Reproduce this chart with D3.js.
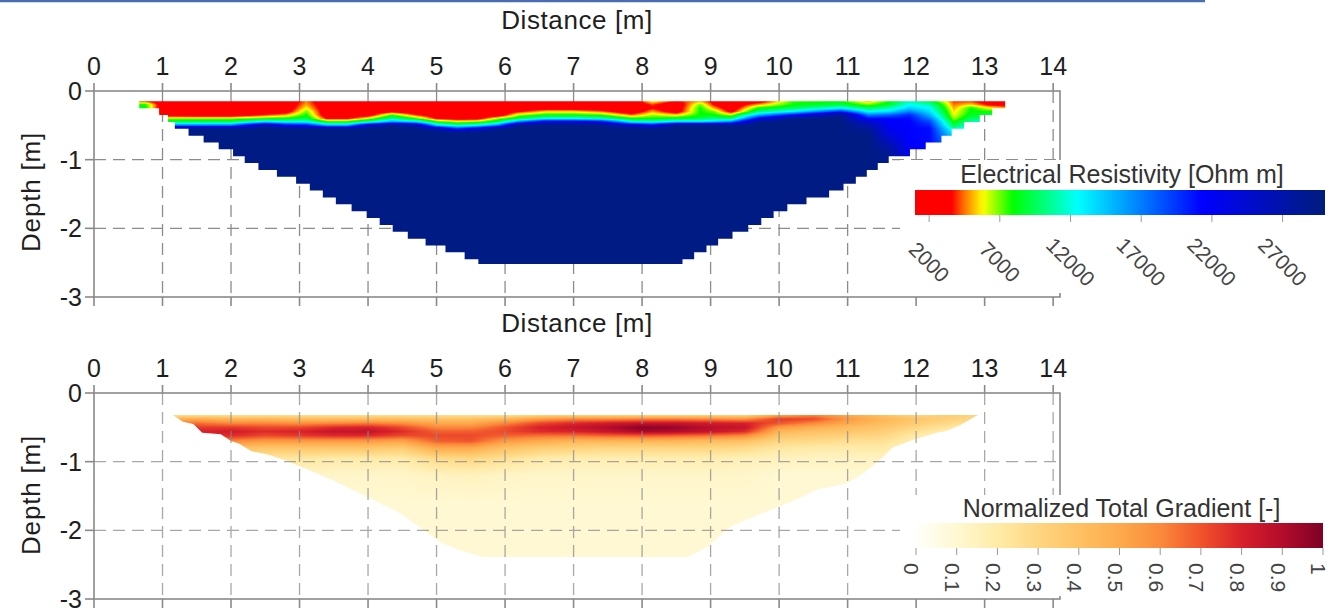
<!DOCTYPE html>
<html>
<head>
<meta charset="utf-8">
<script src="https://cdn.jsdelivr.net/npm/d3@7"></script>
<style>
  html, body { margin: 0; padding: 0; background: #fff; }
  svg { display: block; font-family: "Liberation Sans", Arial, sans-serif; }
</style>
</head>
<body>
<svg id="chart" width="1332" height="613"></svg>
<script>
// ---------------------------------------------------------------
// Axis ticks
// ---------------------------------------------------------------
const distanceTicks = [0, 1, 2, 3, 4, 5, 6, 7, 8, 9, 10, 11, 12, 13, 14];
const depthTicks = [0, -1, -2, -3];
const resistivityTicks = [2000, 7000, 12000, 17000, 22000, 27000];
const gradientTicks = [0, 0.1, 0.2, 0.3, 0.4, 0.5, 0.6, 0.7, 0.8, 0.9, 1];

// ---------------------------------------------------------------
// Electrical resistivity model (Ohm m)
// one profile per distance node, sampled at the depth nodes
// ---------------------------------------------------------------
const resDistance = [0.5, 0.75, 1.0, 1.5, 2.0, 2.5, 2.8, 3.1, 3.4, 3.7, 4.0, 4.35, 4.7, 5.0, 5.3, 5.6,
  5.9, 6.2, 6.6, 7.0, 7.4, 7.85, 8.15, 8.5, 8.85, 9.05, 9.3, 9.7, 10.2, 10.9, 11.3, 11.6, 11.9,
  12.2, 12.55, 12.8, 13.05, 13.4];
const resDepth = [0.15, 0.2, 0.25, 0.3, 0.35, 0.4, 0.45, 0.5, 0.55, 0.6, 0.7, 0.85, 1.1, 1.5, 2.0, 2.55];
const resistivity = [
  [4500, 7900, 9000, 12500, 17000, 29500, 29500, 29500, 29500, 29500, 29500, 29500, 29500, 29500, 29500, 29500],
  [4000, 7900, 7900, 8500, 12500, 21000, 29500, 29500, 29500, 29500, 29500, 29500, 29500, 29500, 29500, 29500],
  [2000, 2000, 2000, 2000, 2500, 6500, 9500, 17000, 29500, 29500, 29500, 29500, 29500, 29500, 29500, 29500],
  [2000, 2000, 2000, 2000, 2000, 6500, 9500, 17000, 29500, 29500, 29500, 29500, 29500, 29500, 29500, 29500],
  [2000, 2000, 2000, 2000, 2000, 6500, 9500, 17000, 29500, 29500, 29500, 29500, 29500, 29500, 29500, 29500],
  [2000, 2000, 2000, 2000, 4000, 7500, 14000, 27000, 29500, 29500, 29500, 29500, 29500, 29500, 29500, 29500],
  [2000, 2000, 2000, 2500, 5000, 8000, 12500, 22000, 29500, 29500, 29500, 29500, 29500, 29500, 29500, 29500],
  [4500, 5000, 5800, 7000, 7900, 9000, 12500, 21000, 29500, 29500, 29500, 29500, 29500, 29500, 29500, 29500],
  [2000, 2000, 2000, 2000, 2000, 3500, 8000, 15000, 29500, 29500, 29500, 29500, 29500, 29500, 29500, 29500],
  [2000, 2000, 2000, 2000, 2000, 3500, 8000, 15000, 29500, 29500, 29500, 29500, 29500, 29500, 29500, 29500],
  [2000, 2000, 2000, 2000, 2500, 6000, 11000, 25000, 29500, 29500, 29500, 29500, 29500, 29500, 29500, 29500],
  [2000, 2000, 2000, 3000, 7500, 10500, 16000, 29500, 29500, 29500, 29500, 29500, 29500, 29500, 29500, 29500],
  [2000, 2000, 2000, 2000, 4000, 7500, 14000, 27000, 29500, 29500, 29500, 29500, 29500, 29500, 29500, 29500],
  [2000, 2000, 2000, 2000, 2000, 3500, 7900, 14000, 27000, 29500, 29500, 29500, 29500, 29500, 29500, 29500],
  [2000, 2000, 2000, 2000, 2000, 2500, 6500, 11000, 20000, 29500, 29500, 29500, 29500, 29500, 29500, 29500],
  [2000, 2000, 2000, 2000, 2000, 2800, 7000, 12500, 24000, 29500, 29500, 29500, 29500, 29500, 29500, 29500],
  [2000, 2000, 2000, 2000, 2000, 6500, 9500, 17000, 29500, 29500, 29500, 29500, 29500, 29500, 29500, 29500],
  [2000, 2000, 2000, 3500, 6500, 9000, 17000, 29500, 29500, 29500, 29500, 29500, 29500, 29500, 29500, 29500],
  [2000, 2000, 2500, 5500, 8000, 12000, 24000, 29500, 29500, 29500, 29500, 29500, 29500, 29500, 29500, 29500],
  [2000, 2000, 2500, 5500, 8000, 12000, 24000, 29500, 29500, 29500, 29500, 29500, 29500, 29500, 29500, 29500],
  [2000, 2000, 2000, 4500, 7500, 11000, 22000, 29500, 29500, 29500, 29500, 29500, 29500, 29500, 29500, 29500],
  [2000, 2000, 2000, 2000, 4500, 7900, 12500, 25000, 29500, 29500, 29500, 29500, 29500, 29500, 29500, 29500],
  [5800, 4000, 3500, 5000, 6500, 7900, 12000, 22000, 29500, 29500, 29500, 29500, 29500, 29500, 29500, 29500],
  [3500, 2000, 2000, 2500, 5500, 8500, 14000, 29500, 29500, 29500, 29500, 29500, 29500, 29500, 29500, 29500],
  [5000, 7000, 7900, 7900, 8000, 9000, 14000, 29500, 29500, 29500, 29500, 29500, 29500, 29500, 29500, 29500],
  [3000, 3500, 5000, 7000, 8000, 10000, 15000, 29500, 29500, 29500, 29500, 29500, 29500, 29500, 29500, 29500],
  [2000, 2000, 2000, 3000, 6500, 9500, 17000, 29500, 29500, 29500, 29500, 29500, 29500, 29500, 29500, 29500],
  [2500, 5000, 7900, 10000, 15000, 22000, 29500, 29500, 29500, 29500, 29500, 29500, 29500, 29500, 29500, 29500],
  [7500, 7900, 9500, 13000, 21000, 29500, 29500, 29500, 29500, 29500, 29500, 29500, 29500, 29500, 29500, 29500],
  [7900, 9000, 12500, 20000, 29500, 29500, 29500, 29500, 29500, 29500, 29500, 29500, 29500, 29500, 29500, 29500],
  [5000, 7000, 9500, 12500, 17000, 21000, 25000, 27000, 28000, 29000, 29500, 29500, 29500, 29500, 29500, 29500],
  [7900, 8500, 11000, 13500, 18000, 21000, 21500, 22000, 22500, 23000, 25000, 28000, 29500, 29500, 29500, 29500],
  [11000, 12500, 14000, 17000, 20000, 21000, 21300, 21300, 21300, 21300, 21300, 22000, 24000, 27000, 29500, 29500],
  [9000, 11000, 12500, 13500, 15000, 17000, 19000, 20000, 21000, 21000, 21000, 21000, 22000, 25000, 29500, 29500],
  [4000, 4500, 5000, 5500, 5800, 6500, 7900, 9000, 11000, 12500, 15000, 18000, 21000, 25000, 29500, 29500],
  [4000, 5500, 7900, 8000, 8500, 9500, 11000, 12500, 14000, 16000, 18000, 21000, 24000, 27000, 29500, 29500],
  [2500, 3500, 6000, 7900, 9000, 10000, 12500, 14000, 16000, 18000, 20000, 22000, 25000, 27000, 29500, 29500],
  [2000, 2500, 5000, 7900, 9000, 10000, 12500, 14000, 16000, 18000, 20000, 22000, 25000, 27000, 29500, 29500]
];
// model coverage: one row per 0.1 m layer, with its left and right limits (m)
const resRowTop = [0.15, 0.25, 0.35, 0.45, 0.55, 0.65, 0.75, 0.85, 0.95, 1.05, 1.15, 1.25, 1.35, 1.45,
  1.55, 1.65, 1.75, 1.85, 1.95, 2.05, 2.15, 2.25, 2.35, 2.45];
const resRowLeft = [0.66, 0.95, 1.08, 1.18, 1.38, 1.6, 1.82, 2.03, 2.2, 2.4, 2.67, 2.95, 3.15, 3.34,
  3.53, 3.76, 3.98, 4.17, 4.36, 4.58, 4.84, 5.13, 5.41, 5.61];
const resRowRight = [13.3, 13.11, 12.93, 12.7, 12.52, 12.37, 12.14, 11.91, 11.6, 11.44, 11.28, 11.12,
  10.94, 10.73, 10.4, 10.12, 9.92, 9.74, 9.55, 9.32, 9.11, 8.94, 8.76, 8.59];
const resBase = 2.52;

// ---------------------------------------------------------------
// Normalized total gradient (-)
// ---------------------------------------------------------------
const gradDistance = [1.0, 1.5, 2.0, 2.5, 3.0, 3.5, 4.0, 4.5, 5.0, 5.5, 6.0, 6.5, 7.0, 7.5, 8.0, 8.5,
  9.0, 9.5, 10.0, 10.5, 11.0, 11.5, 12.0, 12.5, 13.0];
const gradDepth = [0.32, 0.38, 0.44, 0.5, 0.56, 0.62, 0.7, 0.8, 0.95, 1.2, 1.6, 2.0, 2.4];
const gradient = [
  [0.25, 0.45, 0.6, 0.7, 0.72, 0.65, 0.5, 0.35, 0.2, 0.13, 0.1, 0.1, 0.1],
  [0.25, 0.5, 0.65, 0.75, 0.8, 0.75, 0.6, 0.4, 0.25, 0.15, 0.12, 0.1, 0.1],
  [0.25, 0.45, 0.6, 0.75, 0.82, 0.78, 0.6, 0.4, 0.25, 0.15, 0.12, 0.1, 0.1],
  [0.25, 0.45, 0.6, 0.72, 0.78, 0.72, 0.55, 0.38, 0.22, 0.14, 0.1, 0.1, 0.1],
  [0.25, 0.42, 0.58, 0.72, 0.8, 0.75, 0.55, 0.38, 0.22, 0.13, 0.1, 0.1, 0.1],
  [0.25, 0.42, 0.6, 0.78, 0.85, 0.78, 0.55, 0.38, 0.2, 0.12, 0.1, 0.1, 0.1],
  [0.25, 0.42, 0.62, 0.8, 0.86, 0.78, 0.55, 0.38, 0.2, 0.12, 0.1, 0.1, 0.1],
  [0.25, 0.42, 0.58, 0.72, 0.78, 0.72, 0.52, 0.35, 0.2, 0.12, 0.1, 0.1, 0.1],
  [0.25, 0.4, 0.5, 0.6, 0.68, 0.72, 0.68, 0.5, 0.28, 0.14, 0.1, 0.1, 0.1],
  [0.25, 0.4, 0.5, 0.6, 0.68, 0.72, 0.7, 0.5, 0.3, 0.15, 0.1, 0.1, 0.1],
  [0.25, 0.45, 0.6, 0.7, 0.72, 0.68, 0.55, 0.4, 0.25, 0.13, 0.1, 0.1, 0.1],
  [0.3, 0.55, 0.72, 0.8, 0.78, 0.65, 0.5, 0.35, 0.2, 0.12, 0.1, 0.1, 0.1],
  [0.3, 0.6, 0.78, 0.85, 0.8, 0.65, 0.45, 0.32, 0.18, 0.12, 0.1, 0.1, 0.1],
  [0.3, 0.6, 0.82, 0.9, 0.85, 0.68, 0.45, 0.3, 0.18, 0.12, 0.1, 0.1, 0.1],
  [0.3, 0.62, 0.85, 0.98, 0.92, 0.7, 0.45, 0.3, 0.18, 0.12, 0.1, 0.1, 0.1],
  [0.3, 0.62, 0.85, 0.95, 0.9, 0.68, 0.45, 0.3, 0.18, 0.12, 0.1, 0.1, 0.1],
  [0.3, 0.6, 0.82, 0.88, 0.85, 0.65, 0.42, 0.3, 0.18, 0.12, 0.1, 0.1, 0.1],
  [0.3, 0.58, 0.8, 0.85, 0.78, 0.6, 0.4, 0.28, 0.16, 0.12, 0.1, 0.1, 0.1],
  [0.5, 0.75, 0.7, 0.55, 0.45, 0.38, 0.3, 0.22, 0.15, 0.1, 0.1, 0.1, 0.1],
  [0.6, 0.72, 0.6, 0.48, 0.4, 0.35, 0.28, 0.2, 0.14, 0.1, 0.1, 0.1, 0.1],
  [0.5, 0.55, 0.5, 0.42, 0.38, 0.32, 0.26, 0.2, 0.14, 0.1, 0.1, 0.1, 0.1],
  [0.4, 0.45, 0.42, 0.38, 0.34, 0.3, 0.25, 0.2, 0.14, 0.1, 0.1, 0.1, 0.1],
  [0.3, 0.38, 0.35, 0.3, 0.25, 0.2, 0.18, 0.15, 0.12, 0.1, 0.1, 0.1, 0.1],
  [0.35, 0.32, 0.28, 0.22, 0.18, 0.15, 0.12, 0.1, 0.1, 0.1, 0.1, 0.1, 0.1],
  [0.3, 0.28, 0.22, 0.18, 0.15, 0.12, 0.1, 0.1, 0.1, 0.1, 0.1, 0.1, 0.1]
];
// coverage outline of the gradient section: [distance, depth]
const gradCoverage = [
  [1.15, 0.32], [12.9, 0.32], [12.64, 0.47], [12.45, 0.55], [12.3, 0.58], [11.96, 0.68],
  [11.66, 0.79], [11.5, 0.95], [11.23, 1.17], [11.0, 1.31], [10.55, 1.41], [10.16, 1.59],
  [9.68, 1.78], [9.28, 1.95], [8.95, 2.24], [8.67, 2.39], [5.68, 2.39], [5.34, 2.29],
  [5.05, 2.17], [4.47, 1.75], [3.49, 1.27], [2.85, 1.0], [2.55, 0.9], [2.3, 0.85],
  [2.12, 0.74], [2.0, 0.7], [1.85, 0.6], [1.58, 0.58], [1.45, 0.45], [1.3, 0.42]
];

// ---------------------------------------------------------------
// Colour scales
// ---------------------------------------------------------------
const resColor = d3.scaleLinear()
  .domain([1000, 3600, 4600, 5800, 7900, 12500, 21300, 30000])
  .range(["#ff0000", "#ff0000", "#ff8000", "#ffff00", "#00ff00", "#00ffff", "#0000ff", "#001d7c"])
  .clamp(true);
const gradColor = d3.scaleLinear()
  .domain([0, 0.1, 0.2, 0.3, 0.4, 0.5, 0.6, 0.7, 0.8, 0.9, 1])
  .range(["#fffffa", "#fff8d2", "#ffeba8", "#fed681", "#fec163", "#fdaa4c", "#fb8a3b",
          "#f0532b", "#d8202a", "#b30c2c", "#7f0026"])
  .clamp(true);

// ---------------------------------------------------------------
// Layout
// ---------------------------------------------------------------
const svg = d3.select("#chart");
const defs = svg.append("defs");
const x = d3.scaleLinear().domain([0, 14.1]).range([94, 1060]);
const panels = [
  { y: d3.scaleLinear().domain([0, -3]).range([91, 297]), tickY: 75, titleY: 29, depthLabelY: 192 },
  { y: d3.scaleLinear().domain([0, -3]).range([393, 599]), tickY: 377, titleY: 332, depthLabelY: 495 }
];

// header rule
svg.append("line").attr("x1", 0).attr("x2", 1205).attr("y1", 1).attr("y2", 1)
  .attr("stroke", "#4a6cb3").attr("stroke-width", 2.5);

function sampler(xs, ds, grid) {
  return (px, pd) => {
    const i = Math.max(0, Math.min(xs.length - 2, d3.bisectRight(xs, px) - 1));
    const j = Math.max(0, Math.min(ds.length - 2, d3.bisectRight(ds, pd) - 1));
    const tx = Math.max(0, Math.min(1, (px - xs[i]) / (xs[i + 1] - xs[i])));
    const ty = Math.max(0, Math.min(1, (pd - ds[j]) / (ds[j + 1] - ds[j])));
    const a = grid[i][j], b = grid[i + 1][j], c = grid[i][j + 1], e = grid[i + 1][j + 1];
    return (a * (1 - tx) + b * tx) * (1 - ty) + (c * (1 - tx) + e * tx) * ty;
  };
}

function colorTable(scale, lo, hi, n) {
  const table = d3.range(n).map(k => d3.rgb(scale(lo + (hi - lo) * k / (n - 1))));
  return v => table[Math.max(0, Math.min(n - 1, Math.round((v - lo) / (hi - lo) * (n - 1))))];
}

// raster of an interpolated field, clipped to its coverage polygon
function drawField(g, y, sample, lut, extent, outline, id) {
  const px0 = Math.floor(x(extent[0])), px1 = Math.ceil(x(extent[1]));
  const py0 = Math.floor(y(-extent[2])), py1 = Math.ceil(y(-extent[3]));
  const w = px1 - px0, h = py1 - py0;
  const canvas = document.createElement("canvas");
  canvas.width = w; canvas.height = h;
  const ctx = canvas.getContext("2d");
  const img = ctx.createImageData(w, h);
  for (let r = 0; r < h; r++) {
    const d = -y.invert(py0 + r + 0.5);
    for (let c = 0; c < w; c++) {
      const col = lut(sample(x.invert(px0 + c + 0.5), d));
      const k = (r * w + c) * 4;
      img.data[k] = col.r; img.data[k + 1] = col.g; img.data[k + 2] = col.b; img.data[k + 3] = 255;
    }
  }
  ctx.putImageData(img, 0, 0);
  defs.append("clipPath").attr("id", id).append("path")
    .attr("d", d3.line().x(p => x(p[0])).y(p => y(-p[1]))(outline) + "Z");
  g.append("image").attr("href", canvas.toDataURL())
    .attr("x", px0).attr("y", py0).attr("width", w).attr("height", h)
    .attr("clip-path", `url(#${id})`);
}

function drawGrid(g, y, alpha) {
  const grid = g.append("g").attr("stroke", "#8c8c8c").attr("stroke-width", 1.3)
    .attr("stroke-dasharray", "12,7").attr("opacity", alpha);
  distanceTicks.filter(v => v > 0).forEach(v => {
    grid.append("line").attr("x1", x(v)).attr("x2", x(v)).attr("y1", y(0)).attr("y2", y(-3));
  });
  depthTicks.filter(v => v < 0 && v > -3).forEach(v => {
    grid.append("line").attr("x1", x(0)).attr("x2", x(14.1)).attr("y1", y(v)).attr("y2", y(v));
  });
}

function drawFrame(g, p) {
  const y = p.y;
  const fr = g.append("g").attr("stroke", "#8a8a8a").attr("stroke-width", 1.6).attr("fill", "none");
  fr.append("rect").attr("x", x(0)).attr("y", y(0)).attr("width", x(14.1) - x(0)).attr("height", y(-3) - y(0));
  distanceTicks.forEach(v => {
    fr.append("line").attr("x1", x(v)).attr("x2", x(v)).attr("y1", y(0) - 8).attr("y2", y(0));
    fr.append("line").attr("x1", x(v)).attr("x2", x(v)).attr("y1", y(-3)).attr("y2", y(-3) + 9);
  });
  depthTicks.forEach(v => {
    fr.append("line").attr("x1", x(0) - 9).attr("x2", x(0)).attr("y1", y(v)).attr("y2", y(v));
  });
  const lab = g.append("g").attr("fill", "#1e1e1e").attr("font-size", 25);
  distanceTicks.forEach(v => {
    lab.append("text").attr("x", x(v)).attr("y", p.tickY).attr("text-anchor", "middle").text(v);
  });
  depthTicks.forEach(v => {
    lab.append("text").attr("x", 82).attr("y", y(v)).attr("dy", "0.36em")
      .attr("text-anchor", "end").text(v);
  });
  lab.append("text").attr("x", 577).attr("y", p.titleY).attr("text-anchor", "middle")
    .attr("font-size", 26).attr("letter-spacing", 0.6).text("Distance [m]");
  lab.append("text").attr("transform", `translate(31,${p.depthLabelY}) rotate(-90)`)
    .attr("text-anchor", "middle").attr("dy", "0.36em")
    .attr("font-size", 26).attr("letter-spacing", 0.8).text("Depth [m]");
}

// ---------------- resistivity section ----------------
const g1 = svg.append("g");
drawGrid(g1, panels[0].y, 1);
const resOutline = [];
resRowTop.forEach((t, i) => {
  const b = i < resRowTop.length - 1 ? resRowTop[i + 1] : resBase;
  resOutline.push([resRowLeft[i], t], [resRowLeft[i], b]);
});
for (let i = resRowTop.length - 1; i >= 0; i--) {
  const b = i < resRowTop.length - 1 ? resRowTop[i + 1] : resBase;
  resOutline.push([resRowRight[i], b], [resRowRight[i], resRowTop[i]]);
}
drawField(g1, panels[0].y, sampler(resDistance, resDepth, resistivity),
  colorTable(resColor, 1000, 30000, 1024), [0.5, 13.5, 0.1, 2.6], resOutline, "clipRes");
drawFrame(g1, panels[0]);

// ---------------- gradient section ----------------
const g2 = svg.append("g");
drawField(g2, panels[1].y, sampler(gradDistance, gradDepth, gradient),
  colorTable(gradColor, 0, 1, 1024), [1.0, 13.1, 0.3, 2.45], gradCoverage, "clipGrad");
drawGrid(g2, panels[1].y, 0.75);
drawFrame(g2, panels[1]);

// ---------------- colour bars ----------------
function colorBar(box, bar, scale, colors, ticks, title, titleY, labelFn) {
  svg.append("rect").attr("x", box[0]).attr("y", box[1]).attr("width", box[2]).attr("height", box[3])
    .attr("fill", "#fff");
  const id = "grad" + title.length;
  const lg = defs.append("linearGradient").attr("id", id);
  const [d0, d1] = scale.domain();
  d3.range(0, 1.0001, 0.01).forEach(t => {
    lg.append("stop").attr("offset", t).attr("stop-color", colors(d0 + (d1 - d0) * t));
  });
  svg.append("rect").attr("x", bar[0]).attr("y", bar[1]).attr("width", bar[2]).attr("height", bar[3])
    .attr("fill", `url(#${id})`);
  svg.append("text").attr("x", (scale.range()[0] + scale.range()[1]) / 2 + 2).attr("y", titleY)
    .attr("text-anchor", "middle").attr("font-size", 25).attr("fill", "#333").text(title);
  const tk = svg.append("g");
  ticks.forEach(v => {
    tk.append("line").attr("x1", scale(v)).attr("x2", scale(v))
      .attr("y1", bar[1] + bar[3]).attr("y2", bar[1] + bar[3] + 7)
      .attr("stroke", "#999").attr("stroke-width", 1);
    labelFn(tk, v, scale(v));
  });
}

const resLegend = d3.scaleLinear().domain([1000, 30000]).range([915, 1325]);
colorBar([900, 160, 432, 133], [915, 190, 410, 25], resLegend, resColor, resistivityTicks,
  "Electrical Resistivity [Ohm m]", 183,
  (g, v, px) => g.append("text").attr("transform", `translate(${px},262) rotate(45)`)
    .attr("text-anchor", "middle").attr("dy", "0.35em").attr("font-size", 21)
    .attr("fill", "#444").text(v));

const gradLegend = d3.scaleLinear().domain([0, 1]).range([916, 1323]);
colorBar([900, 495, 432, 101], [916, 523, 407, 25], gradLegend, gradColor, gradientTicks,
  "Normalized Total Gradient [-]", 517,
  (g, v, px) => g.append("text").attr("transform", `translate(${px},563) rotate(90)`)
    .attr("text-anchor", "start").attr("dy", "0.55em").attr("font-size", 21)
    .attr("fill", "#444").text(v));
</script>
</body>
</html>
